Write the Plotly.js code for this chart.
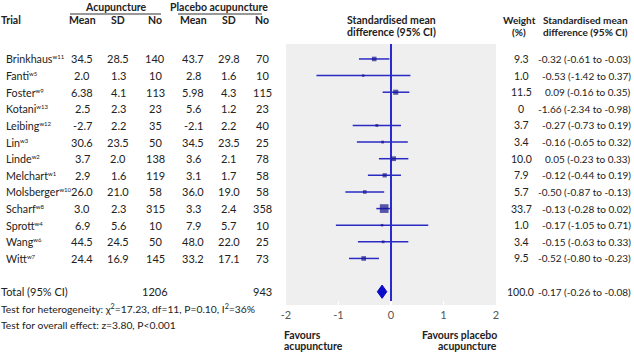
<!DOCTYPE html>
<html>
<head>
<meta charset="utf-8">
<script src="https://cdn.plot.ly/plotly-3.0.1.min.js"></script>
<style>html,body{margin:0;padding:0;background:#fff;}#chart{width:634px;height:352px;}</style>
</head>
<body>
<div id="chart"></div>
<script>
// ---- data ----
const trials = ['Brinkhaus','Fanti','Foster','Kotani','Leibing','Lin','Linde','Melchart','Molsberger','Scharf','Sprott','Wang','Witt'];
const refs = ['w11','w5','w9','w13','w12','w3','w2','w1','w10','w8','w4','w6','w7'];
const acuMean = ['34.5','2.0','6.38','2.5','-2.7','30.6','3.7','2.9','26.0','3.0','6.9','44.5','24.4'];
const acuSD = ['28.5','1.3','4.1','2.3','2.2','23.5','2.0','1.6','21.0','2.3','5.6','24.5','16.9'];
const acuN = [140,10,113,23,35,50,138,119,58,315,10,50,145];
const plaMean = ['43.7','2.8','5.98','5.6','-2.1','34.5','3.6','3.1','36.0','3.3','7.9','48.0','33.2'];
const plaSD = ['29.8','1.6','4.3','1.2','2.2','23.5','2.1','1.7','19.0','2.4','5.7','22.0','17.1'];
const plaN = [70,10,115,23,40,25,78,58,58,358,10,25,73];
const weight = [9.3,1.0,11.5,0,3.7,3.4,10.0,7.9,5.7,33.7,1.0,3.4,9.5];
const smd = [-0.32,-0.53,0.09,-1.66,-0.27,-0.16,0.05,-0.12,-0.50,-0.13,-0.17,-0.15,-0.52];
const ciLo = [-0.61,-1.42,-0.16,-2.34,-0.73,-0.65,-0.23,-0.44,-0.87,-0.28,-1.05,-0.63,-0.80];
const ciHi = [-0.03,0.37,0.35,-0.98,0.19,0.32,0.33,0.19,-0.13,0.02,0.71,0.33,-0.23];
const total = {acuN: 1206, plaN: 943, weight: 100.0, smd: -0.17, lo: -0.26, hi: -0.08};
const heterogeneity = 'Test for heterogeneity: χ<sup>2</sup>=17.23, df=11, P=0.10, I<sup>2</sup>=36%';
const overall = 'Test for overall effect: z=3.80, P&lt;0.001';
const xTicks = [-2,-1,0,1,2];
const xTickText = ['-2','-1','0','1','2'];

// ---- layout helpers ----
const W = 634, H = 352;
const FONT = 'Lato, "Liberation Sans", Arial, sans-serif';
const TXT = '#222';
const TOTAL_ROW = 14;
const px = x => x / W;
const py = y => 1 - y / H;
const fmt = v => (v < 0 ? '-' : '') + Math.abs(v).toFixed(2);
const sup = s => '<sup><span style="font-size:6px">' + s + '</span></sup>';

const annotations = [];
function addText(text, x, y, anchor, opts) {
  opts = opts || {};
  const isRow = opts.row !== undefined;
  annotations.push({
    text: text, x: px(x), xref: 'paper',
    y: isRow ? opts.row : py(y), yref: isRow ? 'y' : 'paper',
    xanchor: anchor, yanchor: 'middle', showarrow: false, borderpad: 0,
    align: anchor === 'right' ? 'right' : (anchor === 'center' ? 'center' : 'left'),
    font: {family: FONT, size: opts.size || 11, color: opts.color || TXT}
  });
}

// headers
addText('<b>Acupuncture</b>', 116, 7, 'center', {size: 10.5});
addText('<b>Placebo acupuncture</b>', 219, 7, 'center', {size: 10.5});
addText('<b>Trial</b>', 0, 20, 'left', {size: 10.5});
const hdrX = [82, 118, 155, 193, 229, 262];
['Mean','SD','No','Mean','SD','No'].forEach((t, i) => addText('<b>' + t + '</b>', hdrX[i], 20, 'center', {size: 10.5}));
addText('<b>Standardised mean</b>', 391, 20, 'center', {size: 10.5});
addText('<b>difference (95% CI)</b>', 391, 32, 'center', {size: 10.5});
addText('<b>Weight</b>', 519, 20, 'center', {size: 10});
addText('<b>(%)</b>', 519, 32, 'center', {size: 10});
addText('<b>Standardised mean</b>', 585, 20, 'center', {size: 10});
addText('<b>difference (95% CI)</b>', 585, 32, 'center', {size: 10});

// rows
trials.forEach((t, i) => {
  addText(t + sup(refs[i]), 5, 0, 'left', {row: i, size: 10.7});
  addText(acuMean[i], hdrX[0], 0, 'center', {row: i});
  addText(acuSD[i], hdrX[1], 0, 'center', {row: i});
  addText(String(acuN[i]), hdrX[2], 0, 'center', {row: i});
  addText(plaMean[i], hdrX[3], 0, 'center', {row: i});
  addText(plaSD[i], hdrX[4], 0, 'center', {row: i});
  addText(String(plaN[i]), hdrX[5], 0, 'center', {row: i});
  addText(weight[i] === 0 ? '0' : weight[i].toFixed(1), 521, 0, 'center', {row: i, size: 10.5});
  addText(fmt(smd[i]) + ' (' + fmt(ciLo[i]) + ' to ' + fmt(ciHi[i]) + ')', 632, 0, 'right', {row: i, size: 10});
});
addText('Total (95% CI)', 0, 0, 'left', {row: TOTAL_ROW});
addText(String(total.acuN), hdrX[2], 0, 'center', {row: TOTAL_ROW});
addText(String(total.plaN), hdrX[5], 0, 'center', {row: TOTAL_ROW});
addText(total.weight.toFixed(1), 520, 0, 'center', {row: TOTAL_ROW, size: 10.5});
addText(fmt(total.smd) + ' (' + fmt(total.lo) + ' to ' + fmt(total.hi) + ')', 632, 0, 'right', {row: TOTAL_ROW, size: 10});
addText(heterogeneity, 0, 308, 'left', {size: 10.3});
addText(overall, 0, 325, 'left', {size: 10.3});
addText('<b>Favours</b>', 283, 335, 'left', {size: 10.5});
addText('<b>acupuncture</b>', 283, 346, 'left', {size: 10.5});
addText('<b>Favours placebo</b>', 498, 335, 'right', {size: 10.5});
addText('<b>acupuncture</b>', 498, 346, 'right', {size: 10.5});

// ---- traces ----
const idx = trials.map((_, i) => i).filter(i => weight[i] > 0);
const studies = {
  type: 'scatter', mode: 'markers',
  x: idx.map(i => smd[i]), y: idx,
  marker: {symbol: 'square', color: '#14148c', size: idx.map(i => Math.max(2.5, 1.5 * Math.sqrt(weight[i]))), line: {width: 0}},
  error_x: {type: 'data', symmetric: false, array: idx.map(i => ciHi[i] - smd[i]), arrayminus: idx.map(i => smd[i] - ciLo[i]), width: 0, thickness: 1.5, color: '#2a2ac4'},
  hoverinfo: 'skip', cliponaxis: false
};
const dh = 0.4;
const diamond = {
  type: 'scatter', mode: 'lines', fill: 'toself',
  x: [total.lo, total.smd, total.hi, total.smd, total.lo],
  y: [TOTAL_ROW, TOTAL_ROW - dh, TOTAL_ROW, TOTAL_ROW + dh, TOTAL_ROW],
  line: {color: '#0a0ac8', width: 1}, fillcolor: '#0a0ac8', hoverinfo: 'skip'
};

const layout = {
  width: W, height: H,
  margin: {l: 0, r: 0, t: 0, b: 0, pad: 0},
  paper_bgcolor: '#ffffff', plot_bgcolor: '#efefef',
  showlegend: false,
  xaxis: {
    domain: [px(286), px(496)], range: [-2, 2],
    tickvals: xTicks, ticktext: xTickText,
    showgrid: false, zeroline: true, zerolinecolor: '#2a2ad0', zerolinewidth: 1.2,
    ticks: 'inside', ticklen: 4, tickcolor: '#ffffff', tickwidth: 1.5,
    tickfont: {family: FONT, size: 11, color: '#555'}, showline: false, fixedrange: true,
    ticklabelstandoff: 2
  },
  yaxis: {
    domain: [py(305), py(44)], range: [14.8, -0.9],
    visible: false, showgrid: false, zeroline: false, fixedrange: true
  },
  shapes: [
    {type: 'line', xref: 'paper', yref: 'paper', x0: px(70), x1: px(161), y0: py(14), y1: py(14), line: {color: '#333', width: 1}},
    {type: 'line', xref: 'paper', yref: 'paper', x0: px(178), x1: px(262), y0: py(14), y1: py(14), line: {color: '#333', width: 1}}
  ],
  annotations: annotations
};

Plotly.newPlot('chart', [studies, diamond], layout, {staticPlot: true, displayModeBar: false});
</script>
</body>
</html>
